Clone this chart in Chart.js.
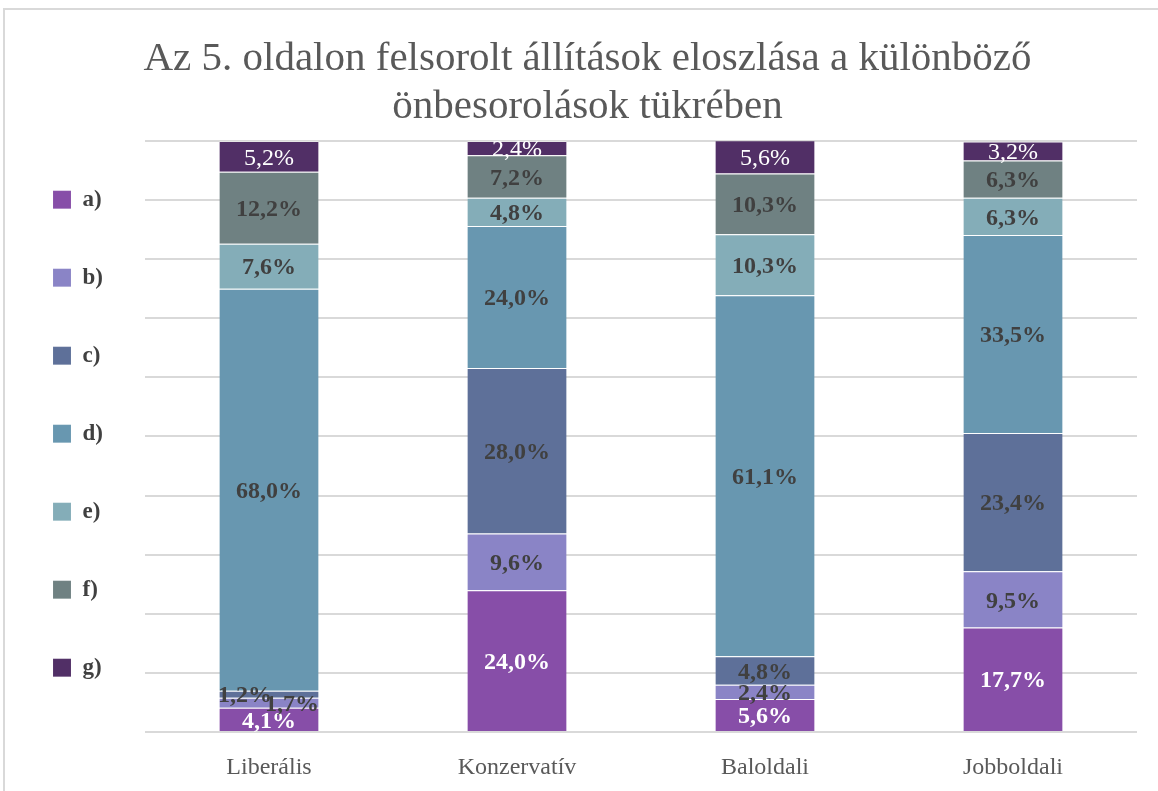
<!DOCTYPE html>
<html>
<head>
<meta charset="utf-8">
<script src="https://cdn.jsdelivr.net/npm/chart.js@4/dist/chart.umd.min.js"></script>
<style>
  html, body { margin: 0; padding: 0; background: #fff; overflow: hidden; }
  #frame { position: absolute; left: 3px; top: 8px; width: 1200px; height: 820px; border: 2px solid #d9d9d9; box-sizing: border-box; }
  #wrap { position: absolute; left: 0; top: 0; width: 1158px; height: 791px; }
</style>
</head>
<body>
<div id="frame"></div>
<div id="wrap"><canvas id="graph-area"></canvas></div>
<script>
const titleLines = ['Az 5. oldalon felsorolt állítások eloszlása a különböző', 'önbesorolások tükrében'];
const categories = ['Liberális', 'Konzervatív', 'Baloldali', 'Jobboldali'];
const seriesNames = ['a)', 'b)', 'c)', 'd)', 'e)', 'f)', 'g)'];
const seriesA = [4.1, 24.0, 5.6, 17.7];
const seriesB = [1.7, 9.6, 2.4, 9.5];
const seriesC = [1.2, 28.0, 4.8, 23.4];
const seriesD = [68.0, 24.0, 61.1, 33.5];
const seriesE = [7.6, 4.8, 10.3, 6.3];
const seriesF = [12.2, 7.2, 10.3, 6.3];
const seriesG = [5.2, 2.4, 5.6, 3.2];

const colors = ['#874ea8', '#8a84c6', '#5e7099', '#6897b0', '#84adb8', '#6f8182', '#512f66'];
const labelColors = ['#ffffff', '#404040', '#404040', '#404040', '#404040', '#404040', '#ffffff'];
const labelWeights = ['bold', 'bold', 'bold', 'bold', 'bold', 'bold', 'normal'];
const serif = '"Liberation Serif", "Times New Roman", serif';

// data labels in the middle of every segment, nudged sideways when two collide
const segmentLabels = {
  id: 'segmentLabels',
  afterDatasetsDraw(chart) {
    const ctx = chart.ctx;
    const items = [];
    const last = {};
    chart.data.datasets.forEach((ds, di) => {
      chart.getDatasetMeta(di).data.forEach((bar, i) => {
        const {x, y, base} = bar.getProps(['x', 'y', 'base'], true);
        const item = {x, y: (y + base) / 2, text: ds.data[i].toFixed(1).replace('.', ',') + '%', di};
        const prev = last[i];
        if (prev && Math.abs(prev.y - item.y) < 12) {
          prev.x += 23;
          item.x -= 24;
        }
        last[i] = item;
        items.push(item);
      });
    });
    ctx.save();
    ctx.textAlign = 'center';
    ctx.textBaseline = 'middle';
    items.forEach(it => {
      ctx.font = labelWeights[it.di] + ' 24px ' + serif;
      ctx.fillStyle = labelColors[it.di];
      ctx.fillText(it.text, it.x, it.y + 2);
    });
    ctx.restore();
  }
};

// the original title sits a little right of the canvas centre
const titleShift = {
  id: 'titleShift',
  afterLayout(chart) {
    chart.titleBlock.left += 20;
    chart.titleBlock.right += 20;
  }
};

const allSeries = [seriesA, seriesB, seriesC, seriesD, seriesE, seriesF, seriesG];
const datasets = allSeries.map((data, i) => ({
  label: seriesNames[i],
  data,
  backgroundColor: colors[i],
  borderColor: 'rgba(255,255,255,0.35)',
  borderWidth: {top: 1, left: 0, right: 0, bottom: 0},
  borderSkipped: false,
  barPercentage: 0.4,
  categoryPercentage: 1.0
}));

new Chart(document.getElementById('graph-area').getContext('2d'), {
  type: 'bar',
  data: {labels: categories, datasets},
  plugins: [segmentLabels, titleShift],
  options: {
    responsive: true,
    maintainAspectRatio: false,
    animation: false,
    layout: {padding: {left: -2, right: 21, top: 0, bottom: 12}},
    plugins: {
      title: {
        display: true,
        text: titleLines,
        color: '#595959',
        font: {family: serif, size: 41, weight: 'normal', lineHeight: 1.17},
        padding: {top: 35, bottom: 10}
      },
      legend: {
        position: 'left',
        align: 'start',
        maxWidth: 147,
        title: {display: true, text: '', font: {size: 1}, padding: {top: 0, bottom: 132}},
        labels: {
          boxWidth: 18,
          boxHeight: 18,
          padding: 55,
          color: '#404040',
          font: {family: serif, size: 23, weight: 'bold'}
        }
      },
      tooltip: {enabled: false}
    },
    scales: {
      x: {
        stacked: true,
        grid: {display: false, drawTicks: false},
        border: {display: false},
        ticks: {color: '#595959', padding: 21, maxRotation: 0, font: {family: serif, size: 24}},
        afterFit(scale) {
          scale.height = 47;
        }
      },
      y: {
        stacked: true,
        min: 0,
        max: 100,
        ticks: {display: false, stepSize: 10},
        grid: {color: '#d9d9d9', lineWidth: 2, drawTicks: false},
        border: {display: false},
        afterFit(scale) {
          scale.width = Math.max(0, 147 - scale.chart.legend.width);
        }
      }
    }
  }
});
</script>
</body>
</html>
